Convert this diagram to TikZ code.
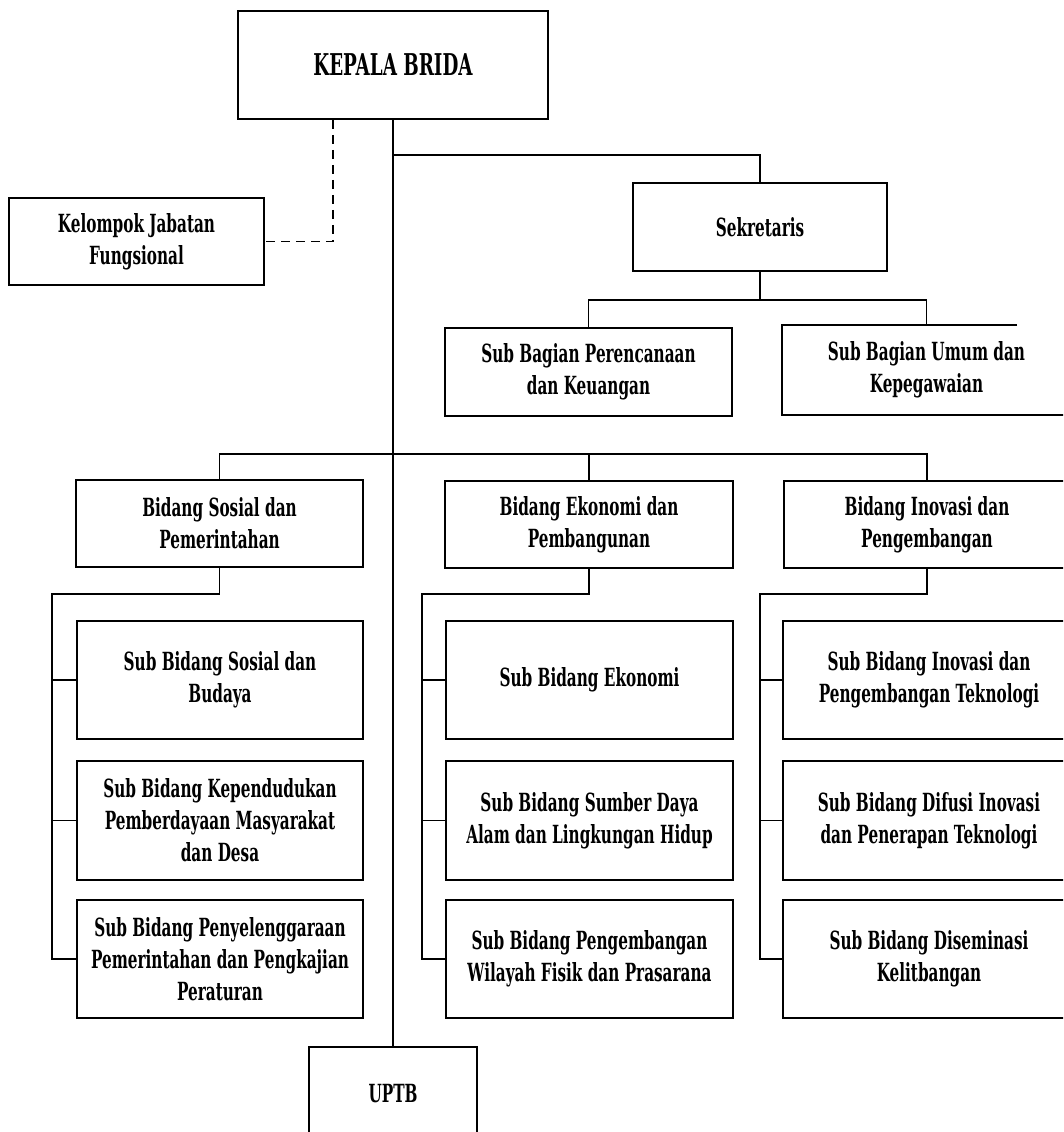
\documentclass[tikz,border=0pt]{standalone}
\usepackage{fontspec}
\newfontfamily\orgfont[FakeStretch=0.61]{DejaVu Serif}
\begin{document}
\begin{tikzpicture}[x=1pt,y=-1pt,
  box/.style={draw, line width=1.7pt, inner sep=0pt, align=center,
    font=\orgfont\bfseries\fontsize{25}{32}\selectfont},
  conn/.style={line width=1.7pt},
  dashline/.style={line width=1.7pt, dash pattern=on 9pt off 6pt}]
\useasboundingbox[fill=white] (0,0) rectangle (1063,1132);
\clip (0,0) rectangle (1063,1132);

\node[box, minimum width=310pt, minimum height=108pt,
  font=\orgfont\bfseries\fontsize{30}{32}\selectfont] (kepala) at (393,65) {KEPALA BRIDA};
\node[box, minimum width=255pt, minimum height=87pt] (kelompok) at (136.5,241.5) {Kelompok Jabatan\\Fungsional};
\node[box, minimum width=254pt, minimum height=88pt] (sekretaris) at (760,227) {Sekretaris};
\node[box, minimum width=287pt, minimum height=88pt] (perencanaan) at (588.5,372) {Sub Bagian Perencanaan\\dan Keuangan};
\node[box, draw=none, minimum width=287pt, minimum height=88pt] (umum) at (926.5,370) {Sub Bagian Umum dan\\Kepegawaian};

\node[box, minimum width=287pt, minimum height=87pt] (bsosial) at (219.5,523.5) {Bidang Sosial dan\\Pemerintahan};
\node[box, minimum width=288pt, minimum height=87pt] (bekonomi) at (589,524.5) {Bidang Ekonomi dan\\Pembangunan};
\node[box, minimum width=286pt, minimum height=87pt] (binovasi) at (927,524.5) {Bidang Inovasi dan\\Pengembangan};

\node[box, minimum width=286pt, minimum height=118pt] (s1) at (220,680) {Sub Bidang Sosial dan\\Budaya};
\node[box, minimum width=286pt, minimum height=119pt] (s2) at (220,820.5) {Sub Bidang Kependudukan\\Pemberdayaan Masyarakat\\dan Desa};
\node[box, minimum width=286pt, minimum height=118pt] (s3) at (220,959) {Sub Bidang Penyelenggaraan\\Pemerintahan dan Pengkajian\\Peraturan};

\node[box, minimum width=287pt, minimum height=118pt] (e1) at (589.5,680) {Sub Bidang Ekonomi};
\node[box, minimum width=287pt, minimum height=119pt] (e2) at (589.5,820.5) {Sub Bidang Sumber Daya\\Alam dan Lingkungan Hidup};
\node[box, minimum width=287pt, minimum height=118pt] (e3) at (589.5,959) {Sub Bidang Pengembangan\\Wilayah Fisik dan Prasarana};

\node[box, minimum width=292pt, minimum height=118pt] (i1) at (929,680) {Sub Bidang Inovasi dan\\Pengembangan Teknologi};
\node[box, minimum width=292pt, minimum height=119pt] (i2) at (929,820.5) {Sub Bidang Difusi Inovasi\\dan Penerapan Teknologi};
\node[box, minimum width=292pt, minimum height=118pt] (i3) at (929,959) {Sub Bidang Diseminasi\\Kelitbangan};

\node[box, minimum width=168pt, minimum height=93pt] (uptb) at (393,1093.5) {UPTB};

% open box outline of Sub Bagian Umum
\draw[conn] (umum.north -| 1017,0) -- (umum.north west) -- (umum.south west) -- (umum.south east);

% main line
\draw[conn] (kepala.south) -- (uptb.north);
\coordinate (j1) at (393,155);
\draw[conn] (j1) -| (sekretaris.north);
\coordinate (j2) at (760,300);
\draw[conn] (sekretaris.south) -- (j2);
\draw[conn] (perencanaan.north) |- (j2) -| (umum.north);
\coordinate (j3) at (393,454);
\draw[conn] (bsosial.north) |- (j3) -| (binovasi.north);
\draw[conn] (bekonomi.north) -- (bekonomi.north |- j3);

% dashed link
\draw[dashline] (kepala.south -| 333,0) |- (kelompok.east);

% groups
\coordinate (sL) at (52,594);
\draw[conn] (bsosial.south) |- (sL) -- (sL |- s3.west) -- (s3.west);
\draw[conn] (sL |- s1.west) -- (s1.west);
\draw[conn] (sL |- s2.west) -- (s2.west);

\coordinate (eL) at (422,594);
\draw[conn] (bekonomi.south) |- (eL) -- (eL |- e3.west) -- (e3.west);
\draw[conn] (eL |- e1.west) -- (e1.west);
\draw[conn] (eL |- e2.west) -- (e2.west);

\coordinate (iL) at (760,594);
\draw[conn] (binovasi.south) |- (iL) -- (iL |- i3.west) -- (i3.west);
\draw[conn] (iL |- i1.west) -- (i1.west);
\draw[conn] (iL |- i2.west) -- (i2.west);
\end{tikzpicture}
\end{document}
